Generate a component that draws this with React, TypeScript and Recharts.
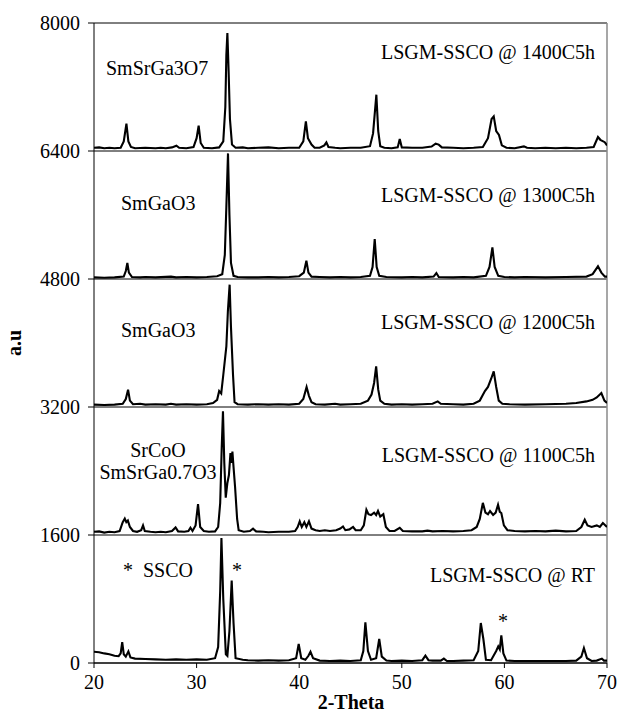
import React from 'react';
import { LineChart, Line, XAxis, YAxis, CartesianGrid, ReferenceLine } from 'recharts';

const xTicks = [20, 30, 40, 50, 60, 70];
const yTicks = [0, 1600, 3200, 4800, 6400, 8000];

const rtPattern: [number, number][] = [[20,140],[20.5,135],[21,120],[21.5,110],[22,90],[22.4,85],[22.6,120],[22.75,262],[22.9,110],[23.1,80],[23.35,145],[23.55,70],[24,55],[25,50],[26,45],[27,40],[28,45],[29,40],[30,45],[31,40],[31.8,60],[32.1,200],[32.3,900],[32.42,1562],[32.6,800],[32.85,110],[33.0,90],[33.2,400],[33.42,1032],[33.6,500],[33.8,60],[34.5,40],[35,35],[36,30],[37,35],[38,30],[39,35],[39.7,60],[39.95,237],[40.2,60],[40.6,40],[40.9,90],[41.1,141],[41.35,60],[42,30],[43,25],[44,30],[45,25],[46,35],[46.25,150],[46.45,508],[46.7,150],[47,40],[47.5,60],[47.8,300],[48.05,80],[48.5,30],[49,25],[50,30],[51,25],[52,35],[52.3,91],[52.6,35],[53,30],[53.8,30],[54.1,55],[54.4,25],[55,25],[56,30],[57,35],[57.45,150],[57.7,500],[57.95,300],[58.2,40],[58.7,35],[59.2,150],[59.4,208],[59.55,170],[59.7,345],[59.9,120],[60.2,30],[61,25],[62,25],[63,25],[64,25],[65,25],[66,25],[67,30],[67.5,80],[67.75,187],[68.05,60],[68.5,25],[69,30],[69.5,55],[69.7,30],[70,30]];

const p1100: [number, number][] = [[20,1640],[20.5,1645],[21,1630],[21.5,1640],[22,1635],[22.5,1650],[22.8,1760],[23.0,1804],[23.15,1760],[23.3,1780],[23.5,1700],[23.8,1650],[24.2,1640],[24.6,1660],[24.78,1720],[24.95,1650],[25.5,1640],[26,1635],[26.5,1640],[27,1635],[27.6,1650],[27.95,1695],[28.2,1645],[28.8,1640],[29.2,1650],[29.4,1690],[29.6,1650],[29.9,1720],[30.14,1987],[30.35,1700],[30.7,1650],[31.2,1640],[31.8,1645],[32.1,1700],[32.3,2000],[32.45,2700],[32.57,3145],[32.7,2500],[32.84,2066],[33.0,2250],[33.15,2350],[33.3,2624],[33.4,2500],[33.49,2643],[33.6,2450],[33.75,2200],[33.95,1800],[34.1,1660],[34.6,1640],[35.2,1650],[35.5,1679],[35.8,1645],[36.5,1640],[37,1635],[38,1640],[39,1640],[39.6,1650],[39.85,1700],[40.05,1770],[40.25,1700],[40.5,1760],[40.7,1700],[40.95,1770],[41.2,1680],[41.6,1660],[42,1650],[42.5,1660],[43,1650],[43.6,1660],[44.0,1680],[44.27,1707],[44.5,1660],[44.9,1670],[45.25,1700],[45.5,1660],[46,1660],[46.3,1720],[46.55,1916],[46.75,1860],[47.0,1850],[47.3,1880],[47.5,1850],[47.68,1900],[47.9,1830],[48.2,1860],[48.45,1700],[48.8,1650],[49.3,1650],[49.8,1690],[50.1,1650],[51,1645],[52,1645],[52.5,1655],[53,1645],[54,1650],[55,1645],[56,1650],[56.8,1660],[57.3,1700],[57.6,1800],[57.9,2002],[58.15,1880],[58.4,1860],[58.6,1900],[58.9,1850],[59.15,1880],[59.38,1979],[59.55,1890],[59.7,1875],[59.95,1720],[60.3,1660],[61,1650],[62,1645],[63,1650],[64,1645],[65,1655],[66,1645],[67,1650],[67.5,1700],[67.83,1791],[68.1,1720],[68.5,1700],[69,1720],[69.3,1700],[69.6,1750],[69.85,1720],[70,1700]];

const p1200: [number, number][] = [[20,3230],[21,3225],[22,3230],[22.8,3240],[23.1,3300],[23.32,3417],[23.5,3280],[23.8,3235],[24.5,3240],[25,3230],[26,3235],[27,3230],[27.5,3240],[28,3230],[29,3235],[30,3230],[31,3235],[31.6,3250],[32.0,3290],[32.2,3400],[32.4,3370],[32.6,3600],[32.9,3957],[33.05,4400],[33.22,4729],[33.35,4200],[33.55,3600],[33.7,3260],[34,3235],[35,3230],[36,3235],[37,3230],[38,3235],[39,3230],[40,3240],[40.4,3300],[40.72,3450],[40.95,3340],[41.2,3260],[41.6,3235],[42.5,3230],[43.5,3240],[44,3230],[45,3235],[46,3240],[46.7,3280],[47.05,3355],[47.3,3500],[47.5,3707],[47.7,3420],[47.9,3280],[48.3,3240],[49,3230],[50,3235],[51,3230],[52,3235],[53,3240],[53.5,3270],[53.8,3240],[55,3235],[56,3230],[57,3240],[57.6,3280],[58.1,3400],[58.4,3450],[58.7,3550],[58.96,3645],[59.2,3450],[59.45,3280],[59.8,3240],[60.5,3235],[62,3230],[64,3235],[66,3240],[67,3250],[68,3270],[68.6,3290],[69.0,3320],[69.45,3375],[69.75,3280],[70,3250]];

const p1300: [number, number][] = [[20,4820],[21,4815],[22,4820],[22.9,4830],[23.1,4900],[23.25,5000],[23.4,4880],[23.7,4825],[24.5,4820],[25,4825],[26,4820],[27.5,4830],[28,4820],[29,4825],[30,4820],[31,4825],[32,4835],[32.5,4860],[32.75,5100],[32.9,5700],[33.06,6370],[33.2,5600],[33.35,5000],[33.6,4840],[34,4825],[35,4820],[36,4820],[37,4825],[38,4820],[39,4825],[40,4835],[40.45,4880],[40.7,5029],[40.9,4880],[41.2,4830],[42,4825],[43,4820],[44,4825],[45,4820],[46,4825],[46.9,4840],[47.15,4950],[47.36,5300],[47.55,4950],[47.8,4840],[48.5,4825],[50,4820],[51,4825],[52,4820],[53.1,4830],[53.37,4875],[53.6,4825],[55,4820],[56,4825],[57,4820],[58.2,4840],[58.55,4950],[58.83,5196],[59.05,4950],[59.4,4840],[60,4825],[61,4820],[62,4825],[64,4820],[66,4825],[68,4830],[68.6,4860],[69.12,4958],[69.45,4880],[69.8,4830],[70,4830]];

const p1400: [number, number][] = [[20,6440],[20.5,6445],[21,6435],[21.5,6440],[22,6435],[22.6,6440],[22.9,6520],[23.16,6741],[23.35,6520],[23.6,6450],[24,6435],[25,6440],[26,6435],[26.5,6440],[27,6435],[27.6,6445],[28.03,6466],[28.3,6440],[29,6435],[29.7,6450],[30.0,6560],[30.2,6716],[30.4,6500],[30.7,6440],[31.5,6435],[32.2,6445],[32.6,6520],[32.8,6950],[32.9,7600],[33.0,7875],[33.12,7400],[33.25,6800],[33.45,6480],[33.8,6440],[34.5,6445],[35,6435],[36,6440],[37,6445],[38,6435],[39,6440],[40,6440],[40.4,6520],[40.65,6770],[40.85,6560],[41.2,6480],[41.5,6440],[42,6440],[42.45,6470],[42.65,6508],[42.85,6450],[43.5,6440],[44,6435],[45,6440],[46,6440],[46.9,6460],[47.2,6620],[47.52,7104],[47.7,6650],[47.9,6460],[48.3,6440],[49,6435],[49.6,6445],[49.8,6550],[50,6445],[51,6440],[52,6440],[52.9,6455],[53.3,6491],[53.6,6480],[53.9,6445],[55,6440],[56,6435],[57,6440],[57.9,6450],[58.4,6560],[58.75,6800],[58.96,6833],[59.2,6650],[59.47,6600],[59.75,6470],[60.2,6440],[61,6435],[61.9,6458],[62.2,6440],[63,6435],[64,6440],[65,6435],[66,6440],[67,6435],[68,6440],[68.7,6450],[69.12,6575],[69.35,6540],[69.78,6510],[70,6470]];

const toPts = (arr: [number, number][]) => arr.map(([x, y]) => ({ x, y }));

const seriesList = [
  { name: 'RT', data: toPts(rtPattern) },
  { name: '1100', data: toPts(p1100) },
  { name: '1200', data: toPts(p1200) },
  { name: '1300', data: toPts(p1300) },
  { name: '1400', data: toPts(p1400) },
];

const FONT = '"Liberation Serif", "Times New Roman", serif';

export default function App() {
  const tickStyle = { fontFamily: FONT, fontSize: 20, fill: '#000' };
  const txt = { fontFamily: FONT, fontSize: 20, fill: '#000' } as const;
  return (
    <div style={{ position: 'absolute', left: 0, top: 0, width: 621, height: 712, background: '#fff' }}>
      <LineChart width={621} height={712} margin={{ top: 23, right: 14, bottom: 19, left: 34 }}>
        <CartesianGrid vertical={false} stroke="#000" strokeWidth={1} />
        <XAxis
          dataKey="x"
          type="number"
          domain={[20, 70]}
          ticks={xTicks}
          allowDataOverflow
          height={30}
          tick={tickStyle}
          tickSize={5}
          tickMargin={7}
          stroke="#000"
          axisLine={{ stroke: '#000' }}
          tickLine={{ stroke: '#000' }}
        />
        <YAxis
          type="number"
          domain={[0, 8000]}
          ticks={yTicks}
          allowDataOverflow
          width={60}
          tick={tickStyle}
          tickSize={6}
          tickMargin={8}
          axisLine={{ stroke: '#000' }}
          tickLine={{ stroke: '#000' }}
        />
        <ReferenceLine x={70} stroke="#8a8a8a" strokeWidth={1.5} />
        {seriesList.map((s) => (
          <Line
            key={s.name}
            data={s.data}
            dataKey="y"
            type="linear"
            stroke="#000"
            strokeWidth={2.1}
            dot={false}
            isAnimationActive={false}
          />
        ))}
      </LineChart>
      <svg width={621} height={712} style={{ position: 'absolute', left: 0, top: 0, pointerEvents: 'none' }}>
        <text x={106} y={75} {...txt}>SmSrGa3O7</text>
        <text x={595} y={59} textAnchor="end" {...txt}>LSGM-SSCO @ 1400C5h</text>
        <text x={121} y={210} {...txt}>SmGaO3</text>
        <text x={595} y={202} textAnchor="end" {...txt}>LSGM-SSCO @ 1300C5h</text>
        <text x={121} y={337} {...txt}>SmGaO3</text>
        <text x={595} y={329} textAnchor="end" {...txt}>LSGM-SSCO @ 1200C5h</text>
        <text x={158} y={457} textAnchor="middle" {...txt}>SrCoO</text>
        <text x={158} y={479} textAnchor="middle" {...txt}>SmSrGa0.7O3</text>
        <text x={595} y={462} textAnchor="end" {...txt}>LSGM-SSCO @ 1100C5h</text>
        <text x={128} y={577} textAnchor="middle" {...txt}>*</text>
        <text x={143} y={577} {...txt}>SSCO</text>
        <text x={237} y={577} textAnchor="middle" {...txt}>*</text>
        <text x={595} y={582} textAnchor="end" {...txt}>LSGM-SSCO @ RT</text>
        <text x={503} y={628} textAnchor="middle" {...txt}>*</text>
        <text x={351} y={709} textAnchor="middle" fontWeight="bold" {...txt}>2-Theta</text>
        <text transform="translate(21,343) rotate(-90)" textAnchor="middle" fontWeight="bold" {...txt}>a.u</text>
      </svg>
    </div>
  );
}
